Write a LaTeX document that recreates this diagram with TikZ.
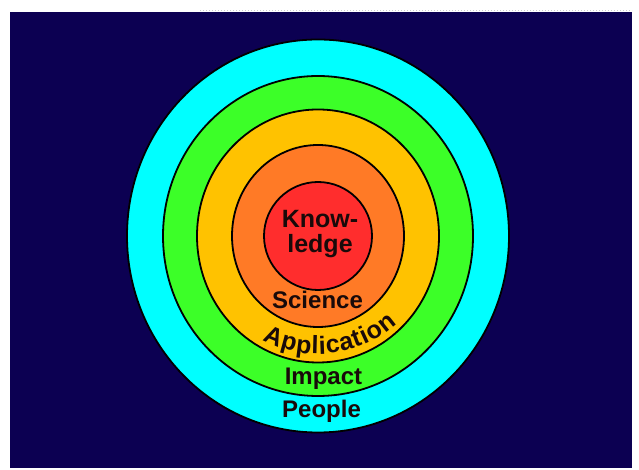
\documentclass[tikz,border=0pt]{standalone}
\usepackage{fontspec}
\setmainfont{Liberation Sans}
\usetikzlibrary{decorations.text}
\definecolor{navybg}{RGB}{12,0,82}
\definecolor{ringcyan}{RGB}{0,255,255}
\definecolor{ringgreen}{RGB}{60,255,40}
\definecolor{ringgold}{RGB}{255,194,0}
\definecolor{ringorange}{RGB}{255,122,38}
\definecolor{ringred}{RGB}{255,45,45}
\definecolor{inktext}{RGB}{25,10,10}
\begin{document}
\begin{tikzpicture}[x=1pt,y=1pt,
  ring/.style={draw=black,line width=1.8pt},
  lbl/.style={anchor=base,inner sep=0pt,text=inktext,font=\bfseries\fontsize{24}{25}\selectfont},
  klbl/.style={anchor=base,inner sep=0pt,text=inktext,font=\bfseries\fontsize{25}{25}\selectfont}]
\useasboundingbox (0,0) rectangle (639,470);
\fill[white] (0,0) rectangle (639,470);
\draw[gray!40,line width=1pt,dotted] (200,459.5) -- (632,459.5);
\fill[navybg] (10,2) rectangle (632,458);
\coordinate (c) at (318,234);
\draw[ring,fill=ringcyan] (c) ellipse [x radius=191,y radius=196.5];
\draw[ring,fill=ringgreen] (c) ellipse [x radius=155,y radius=160];
\draw[ring,fill=ringgold] (c) ellipse [x radius=121,y radius=126.5];
\draw[ring,fill=ringorange] (c) ellipse [x radius=86,y radius=91];
\draw[ring,fill=ringred] (c) ellipse [x radius=54,y radius=54];
\node[klbl] (know) at (320,242) {Know-};
\node[klbl] (ledge) at (320,217) {ledge};
\node[lbl] (science) at (317.5,161) {Science};
\node[lbl] (impact) at (323.5,85) {Impact};
\node[lbl] (people) at (321.5,52) {People};
\path[decorate,decoration={text along path,
  text={|\bfseries\fontsize{25}{25}\selectfont\color{inktext}|Application},
  text align={fit to path}}]
  (c) ++(242:118) arc[start angle=242,end angle=312,radius=118];
\end{tikzpicture}
\end{document}
